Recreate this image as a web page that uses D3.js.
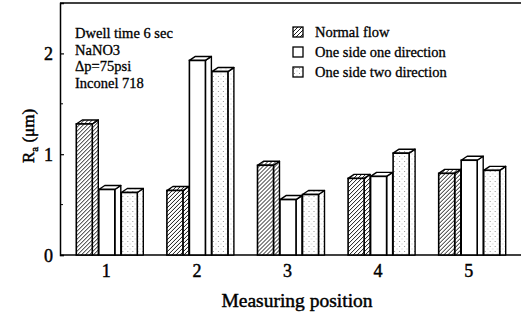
<!DOCTYPE html>
<html>
<head>
<meta charset="utf-8">
<script src="https://cdn.jsdelivr.net/npm/d3@7"></script>
<style>
  body { margin: 0; background: #fff; }
  text { font-family: "Liberation Serif", "Times New Roman", serif; fill: #000; }
  .thick { stroke: #000; stroke-width: 0.3px; }
  .thicker { stroke: #000; stroke-width: 0.45px; }
</style>
</head>
<body>
<div id="chart"></div>
<script>
// data
var positions = ["1", "2", "3", "4", "5"];
var seriesNames = ["Normal flow", "One side one direction", "One side two direction"];
var normalFlow = [1.30, 0.64, 0.89, 0.76, 0.81];
var oneSideOneDir = [0.65, 1.93, 0.55, 0.78, 0.94];
var oneSideTwoDir = [0.62, 1.82, 0.60, 1.01, 0.84];
var yTicks = [0, 1, 2];
var notes = ["Dwell time 6 sec", "NaNO3", "\u0394p=75psi", "Inconel 718"];

var width = 521, height = 317;
var margin = {top: 3, left: 60, bottom: 62};
var depthX = 6, depthY = 4;

var svg = d3.select("#chart").append("svg")
    .attr("width", width)
    .attr("height", height);

// fill patterns
var defs = svg.append("defs");
var hatch = defs.append("pattern")
    .attr("id", "hatch")
    .attr("patternUnits", "userSpaceOnUse")
    .attr("width", 4).attr("height", 4);
hatch.append("rect").attr("width", 4).attr("height", 4).attr("fill", "#fff");
hatch.append("path")
    .attr("d", "M-1,1 l2,-2 M0,4 l4,-4 M3,5 l2,-2")
    .attr("stroke", "#000").attr("stroke-width", 0.9);

var dots = defs.append("pattern")
    .attr("id", "dots")
    .attr("patternUnits", "userSpaceOnUse")
    .attr("width", 5).attr("height", 5);
dots.append("rect").attr("width", 5).attr("height", 5).attr("fill", "#fff");
dots.append("rect").attr("x", 1).attr("y", 1).attr("width", 1).attr("height", 1).attr("fill", "#999");
dots.append("rect").attr("x", 3.5).attr("y", 3.5).attr("width", 1).attr("height", 1).attr("fill", "#bbb");

var fills = ["url(#hatch)", "#fff", "url(#dots)"];

// scales
var x = d3.scaleBand().domain(positions).range([62, 515]);
var xs = d3.scaleBand().domain(seriesNames).range([-31, 36.5]);
var y = d3.scaleLinear().domain([0, 2.5]).range([height - margin.bottom, margin.top]);

var y0 = y(0);

// frame lines
svg.append("line").attr("x1", margin.left).attr("x2", width).attr("y1", y(2.5)).attr("y2", y(2.5))
    .attr("stroke", "#000").attr("stroke-width", 1.5);
svg.append("line").attr("x1", margin.left).attr("x2", width).attr("y1", y0).attr("y2", y0)
    .attr("stroke", "#000").attr("stroke-width", 1.5);

// y axis
var yAxis = svg.append("g")
    .attr("transform", "translate(" + margin.left + ",0)")
    .call(d3.axisRight(y).tickValues(yTicks).tickSize(4).tickFormat(d3.format("d")));
yAxis.select(".domain").attr("stroke-width", 1.5);
yAxis.selectAll(".tick text").remove();
yAxis.selectAll(".tick line").attr("stroke-width", 1.2);
// minor ticks
svg.append("g").selectAll("line")
    .data([0.5, 1.5])
    .join("line")
    .attr("x1", margin.left).attr("x2", margin.left + 3)
    .attr("y1", function(d) { return y(d); })
    .attr("y2", function(d) { return y(d); })
    .attr("stroke", "#000");

svg.append("g").selectAll("text")
    .data(yTicks)
    .join("text")
    .attr("class", "thicker")
    .attr("x", 53)
    .attr("y", function(d) { return y(d) + 7; })
    .attr("text-anchor", "end")
    .style("font-size", "18px")
    .text(function(d) { return d; });

// x tick labels
svg.append("g").selectAll("text")
    .data(positions)
    .join("text")
    .attr("class", "thicker")
    .attr("x", function(d) { return x(d) + x.bandwidth() / 2 - 1; })
    .attr("y", 277)
    .attr("text-anchor", "middle")
    .style("font-size", "18px")
    .text(function(d) { return d; });

// bars
var series = [normalFlow, oneSideOneDir, oneSideTwoDir];
var bars = [];
series.forEach(function(vals, si) {
  vals.forEach(function(v, pi) {
    bars.push({pos: positions[pi], s: seriesNames[si], si: si, value: v});
  });
});

var barW = xs.bandwidth() - depthX - 0.5;

var g = svg.append("g").selectAll("g")
    .data(bars)
    .join("g")
    .attr("transform", function(d) {
      return "translate(" + (x(d.pos) + x.bandwidth() / 2 + xs(d.s)) + ",0)";
    });

g.append("path") // side face
    .attr("d", function(d) {
      var t = y(d.value);
      return "M" + barW + "," + t + "L" + (barW + depthX) + "," + (t - depthY) +
             "L" + (barW + depthX) + "," + y0 + "L" + barW + "," + y0 + "Z";
    })
    .attr("fill", function(d) { return fills[d.si]; })
    .attr("stroke", "#000").attr("stroke-width", 1.4).attr("stroke-linejoin", "round");

g.append("path") // top face
    .attr("d", function(d) {
      var t = y(d.value);
      return "M0," + t + "L" + depthX + "," + (t - depthY) +
             "L" + (barW + depthX) + "," + (t - depthY) + "L" + barW + "," + t + "Z";
    })
    .attr("fill", function(d) { return fills[d.si]; })
    .attr("stroke", "#000").attr("stroke-width", 1.4).attr("stroke-linejoin", "round");

g.append("rect") // front face
    .attr("x", 0)
    .attr("y", function(d) { return y(d.value); })
    .attr("width", barW)
    .attr("height", function(d) { return y0 - y(d.value); })
    .attr("fill", function(d) { return fills[d.si]; })
    .attr("stroke", "#000").attr("stroke-width", 1.6);

// notes
svg.append("g").selectAll("text")
    .data(notes)
    .join("text")
    .attr("class", "thick")
    .attr("x", 75)
    .attr("y", function(d, i) { return 38 + i * 16.5; })
    .style("font-size", "14.5px")
    .text(function(d) { return d; });

// legend
var legend = svg.append("g").selectAll("g")
    .data(seriesNames)
    .join("g")
    .attr("transform", function(d, i) { return "translate(293," + (32 + i * 20) + ")"; });
legend.append("rect")
    .attr("x", 0).attr("y", -5)
    .attr("width", 10).attr("height", 10)
    .attr("fill", function(d, i) { return fills[i]; })
    .attr("stroke", "#000").attr("stroke-width", 1.3);
legend.append("text")
    .attr("class", "thick")
    .attr("x", 22).attr("y", 4.5)
    .style("font-size", "14.5px")
    .text(function(d) { return d; });

// axis titles
svg.append("text")
    .attr("class", "thicker")
    .attr("x", 297).attr("y", 307)
    .attr("text-anchor", "middle")
    .style("font-size", "19.5px")
    .text("Measuring position");

var yl = svg.append("text")
    .attr("class", "thicker")
    .attr("transform", "translate(34,136) rotate(-90)")
    .attr("text-anchor", "middle")
    .style("font-size", "17px");
yl.append("tspan").text("R");
yl.append("tspan").attr("dy", 4).style("font-size", "11px").text("a");
yl.append("tspan").attr("dy", -4).text(" (\u03bcm)");
</script>
</body>
</html>
